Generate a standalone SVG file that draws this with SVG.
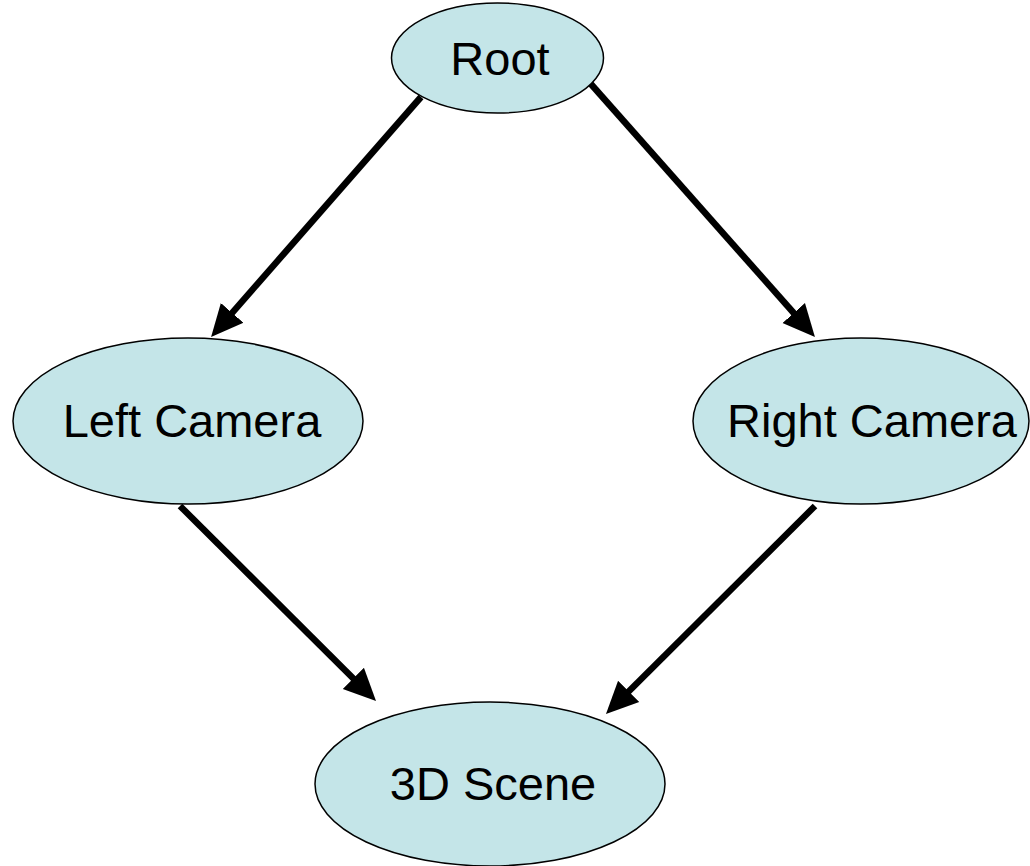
<svg xmlns="http://www.w3.org/2000/svg" width="1030" height="866" viewBox="0 0 1030 866">
<style>
.node{fill:#c4e5e8;stroke:#000;stroke-width:1.5}
.lbl{font-family:"Liberation Sans",Arial,sans-serif;font-size:47px;fill:#000;text-anchor:middle}
.edge{stroke:#000;stroke-width:6.5;fill:none;marker-end:url(#ah)}
</style>
<defs>
<marker id="ah" markerUnits="userSpaceOnUse" viewBox="0 -16 32 32" refX="6" refY="0" markerWidth="32" markerHeight="32" orient="auto">
<path d="M0,-15 L32,0 L0,15 z" fill="#000"/>
</marker>
</defs>
<g id="connectors">
<path class="edge" d="M421,97 L228.2,317.4"/>
<path class="edge" d="M590,83 L797.7,317.5"/>
<path class="edge" d="M180,506 L357.6,682.7"/>
<path class="edge" d="M815,506 L624.4,695.7"/>
</g>
<g id="root">
<ellipse class="node" cx="497.5" cy="58" rx="106" ry="55"/>
<text class="lbl" x="500" y="75">Root</text>
</g>
<g id="left-camera">
<ellipse class="node" cx="188" cy="421" rx="175" ry="83"/>
<text class="lbl" x="192" y="437">Left Camera</text>
</g>
<g id="right-camera">
<ellipse class="node" cx="861" cy="421" rx="168" ry="83"/>
<text class="lbl" x="872" y="437">Right Camera</text>
</g>
<g id="scene">
<ellipse class="node" cx="490" cy="784" rx="175" ry="82"/>
<text class="lbl" x="493" y="800">3D Scene</text>
</g>
</svg>
